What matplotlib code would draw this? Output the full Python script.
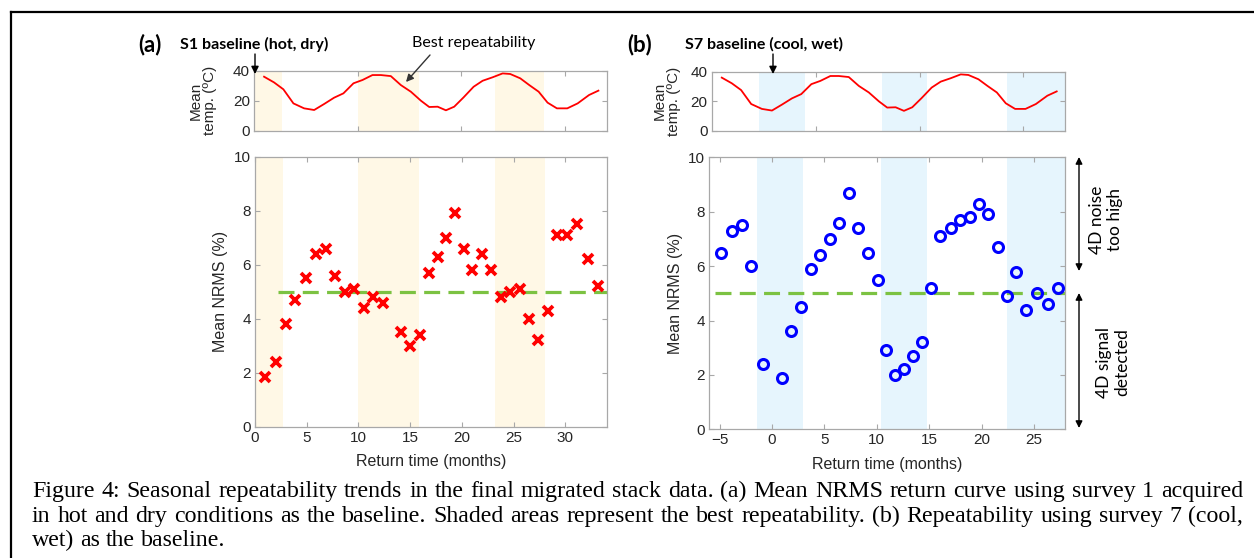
import matplotlib
matplotlib.use("Agg")
import matplotlib.pyplot as plt
from matplotlib.lines import Line2D
from matplotlib.patches import FancyArrowPatch

W, H, DPI = 1254, 558, 100

# ---------------- data ----------------
nrms_a_x = [1.0, 2.06, 2.96, 3.9, 4.92, 5.86, 6.82, 7.72, 8.66, 9.56, 10.49, 11.43, 12.33,
            14.1, 15.0, 15.93, 16.83, 17.67, 18.5, 19.38, 20.2, 21.0, 21.9, 22.85, 23.8,
            24.7, 25.65, 26.5, 27.36, 28.3, 29.16, 30.16, 31.16, 32.15, 33.15]
nrms_a_y = [1.85, 2.4, 3.8, 4.7, 5.5, 6.4, 6.6, 5.6, 5.0, 5.1, 4.4, 4.8, 4.6,
            3.5, 3.0, 3.4, 5.7, 6.3, 7.0, 7.9, 6.6, 5.8, 6.4, 5.8, 4.8,
            5.0, 5.1, 4.0, 3.2, 4.3, 7.1, 7.1, 7.5, 6.2, 5.2]

nrms_b_x = [-4.87, -3.85, -2.9, -1.97, -0.86, 0.92, 1.78, 2.77, 3.69, 4.62, 5.51, 6.43, 7.32,
            8.22, 9.14, 10.1, 10.92, 11.78, 12.64, 13.44, 14.36, 15.19, 16.02, 17.04, 17.96,
            18.89, 19.78, 20.64, 21.53, 22.39, 23.28, 24.27, 25.25, 26.3, 27.26]
nrms_b_y = [6.5, 7.3, 7.5, 6.0, 2.4, 1.9, 3.6, 4.5, 5.9, 6.4, 7.0, 7.6, 8.7,
            7.4, 6.5, 5.5, 2.9, 2.0, 2.2, 2.7, 3.2, 5.2, 7.1, 7.4, 7.7,
            7.8, 8.3, 7.9, 6.7, 4.9, 5.8, 4.4, 5.0, 4.6, 5.2]

# monthly mean temperature, months since survey 1
temp_month = [0.97, 1.93, 2.83, 3.8, 4.83, 5.8, 6.76, 7.72, 8.62, 9.59, 10.46, 11.42, 12.23,
              13.19, 14.16, 15.12, 16.09, 16.89, 17.7, 18.5, 19.3, 20.2, 21.17, 22.04, 23.0,
              23.97, 24.7, 25.67, 26.54, 27.44, 28.3, 29.2, 30.2, 31.2, 32.3, 33.2]
temp_c = [36, 32.2, 27.6, 18.2, 14.9, 13.8, 17.8, 22, 24.9, 31.6, 33.8, 37.1, 37.1,
          36.4, 30.4, 26, 20, 15.8, 16, 13.6, 16, 22.2, 29.3, 33.3, 35.6,
          38.2, 37.8, 34.9, 30.4, 26, 18.7, 14.9, 14.9, 18.2, 23.8, 26.7]

bands_a = [(0, 2.7), (10, 15.9), (23.2, 28.0)]
bands_b = [(-1.45, 2.95), (10.4, 14.75), (22.4, 28.0)]
threshold = 5.0
thr_start_a, thr_start_b = 2.2, -5.5
b_offset = 6  # survey 7 acquired 6 months after survey 1

xticks_a = [0, 5, 10, 15, 20, 25, 30]
xticks_b = [-5, 0, 5, 10, 15, 20, 25]
yticks_nrms = [0, 2, 4, 6, 8, 10]
yticks_temp = [0, 20, 40]
temp_xticks_abs = [10, 20, 30]

caption_lines = [
    "Figure 4: Seasonal repeatability trends in the final migrated stack data. (a) Mean NRMS return curve using survey 1 acquired",
    "in hot and dry conditions as the baseline. Shaded areas represent the best repeatability. (b) Repeatability using survey 7 (cool,",
    "wet) as the baseline.",
]

# ---------------- style ----------------
SANS = ['Liberation Sans', 'DejaVu Sans']
CAL = ['Lato', 'DejaVu Sans']
SERIF = ['Liberation Serif', 'DejaVu Serif']
SPINE = '#a8a8a8'
TXT = '#262626'
YEL = '#fff8e6'
BLU = '#e6f5fd'
GRN = '#7cc242'

fig = plt.figure(figsize=(W / DPI, H / DPI), dpi=DPI)


def rect(l, t, r, b):
    return [l / W, 1 - b / H, (r - l) / W, (b - t) / H]


def fx(x):
    return x / W


def fy(y):
    return 1 - y / H


def style(ax, size=10.5):
    for s in ax.spines.values():
        s.set_color(SPINE)
        s.set_linewidth(0.9)
    ax.tick_params(direction='in', top=True, right=True, length=3.5, width=0.8,
                   color=SPINE, labelcolor=TXT, labelsize=size, pad=3)
    for lab in ax.get_xticklabels() + ax.get_yticklabels():
        lab.set_family(SANS)


def nrms_axes(r, xlim, xticks, bands, shade, xs, ys, thr_start, marker, ylab_x):
    ax = fig.add_axes(r)
    for lo, hi in bands:
        ax.axvspan(lo, hi, color=shade, lw=0, zorder=0)
    ax.plot([thr_start, xlim[1]], [threshold, threshold], color=GRN, lw=2.3,
            dashes=(5, 2.6), zorder=2)
    if marker == 'x':
        ax.plot(xs, ys, 'x', color='#ff0000', ms=6.5, mew=2.7, zorder=3, clip_on=False)
    else:
        ax.plot(xs, ys, 'o', mfc='none', mec='#0000ff', ms=7.2, mew=2.2, zorder=3, clip_on=False)
    ax.set_xlim(*xlim)
    ax.set_ylim(0, 10)
    ax.set_xticks(xticks)
    ax.set_yticks(yticks_nrms)
    style(ax, size=11)
    ax.set_xlabel('Return time (months)', fontsize=11.5, family=SANS, color=TXT, va='center')
    ax.set_ylabel('Mean NRMS (%)', fontsize=11.5, family=SANS, color=TXT, va='center')
    ax.xaxis.set_label_coords(0.5, -0.128)
    ax.yaxis.set_label_coords(ylab_x, 0.5)
    return ax


def temp_axes(r, xlim, xticks, bands, shade, shift, ylab_x):
    ax = fig.add_axes(r)
    for lo, hi in bands:
        ax.axvspan(lo, hi, color=shade, lw=0, zorder=0)
    ax.plot([m - shift for m in temp_month], temp_c, color='#ff0000', lw=1.3)
    ax.set_xlim(*xlim)
    ax.set_ylim(0, 40)
    ax.set_xticks(xticks)
    ax.set_xticklabels([])
    ax.set_yticks(yticks_temp)
    style(ax, size=11)
    ax.set_ylabel('Mean\ntemp. (ºC)', fontsize=11, family=SANS, color=TXT,
                  va='center', linespacing=1.05)
    ax.yaxis.set_label_coords(ylab_x, 0.5)
    return ax


# panel (a)
axa = nrms_axes(rect(255, 156.7, 606.7, 426.7), (0, 34), xticks_a, bands_a, YEL,
                nrms_a_x, nrms_a_y, thr_start_a, 'x', -0.097)
tax = temp_axes(rect(254, 70.7, 606.7, 130.7), (0, 34), temp_xticks_abs, bands_a, YEL, 0, -0.145)

# panel (b)
axb = nrms_axes(rect(709.3, 157.3, 1065.3, 429.3), (-6, 28), xticks_b, bands_b, BLU,
                nrms_b_x, nrms_b_y, thr_start_b, 'o', -0.095)
tbx = temp_axes(rect(711.7, 71.7, 1065, 131), (-6, 28), [t - b_offset for t in temp_xticks_abs],
                bands_b, BLU, b_offset, -0.127)

# ---------------- headings & annotations ----------------
fig.text(fx(138), fy(45), '(a)', fontsize=16, weight='bold', family=CAL, va='center', ha='left')
fig.text(fx(180), fy(44), 'S1 baseline (hot, dry)', fontsize=11.5, weight='bold', family=CAL,
         va='center', ha='left')
fig.text(fx(412), fy(43), 'Best repeatability', fontsize=11.5, family=CAL, va='center', ha='left')
fig.text(fx(627), fy(45), '(b)', fontsize=16, weight='bold', family=CAL, va='center', ha='left')
fig.text(fx(685), fy(44), 'S7 baseline (cool, wet)', fontsize=11.5, weight='bold', family=CAL,
         va='center', ha='left')


def arrow(p0, p1, style_='-|>', color='k', ms=11, lw=1.0):
    a = FancyArrowPatch((fx(p0[0]), fy(p0[1])), (fx(p1[0]), fy(p1[1])),
                        transform=fig.transFigure, arrowstyle=style_, color=color,
                        mutation_scale=ms, lw=lw, shrinkA=0, shrinkB=0)
    fig.add_artist(a)


arrow((255, 54), (255, 74))
arrow((430, 55), (406, 82), color='#333333')
arrow((773, 54), (773, 74))
arrow((1079, 157), (1079, 271), style_='<|-|>', ms=10)
arrow((1079, 293), (1079, 428), style_='<|-|>', ms=10)

fig.text(fx(1106), fy(220), '4D noise\ntoo high', rotation=90, fontsize=12.5, family=CAL,
         ha='center', va='center', linespacing=1.15)
fig.text(fx(1113), fy(362), '4D signal\ndetected', rotation=90, fontsize=12.5, family=CAL,
         ha='center', va='center', linespacing=1.15)

# ---------------- frame ----------------
fig.add_artist(Line2D([fx(11), fx(11)], [0, fy(12)], transform=fig.transFigure, color='k', lw=1.6))
fig.add_artist(Line2D([fx(11), 1], [fy(12), fy(12)], transform=fig.transFigure, color='k', lw=1.6))

# ---------------- caption (justified) ----------------
renderer = fig.canvas.get_renderer()
cap_left, cap_right = 32, 1243
baselines = [497, 522, 546]
probe = fig.text(0, 0, caption_lines[0], fontsize=14, family=SERIF)
cap_fs = 14 * (cap_right - cap_left - 8) / probe.get_window_extent(renderer).width
probe.remove()
p1 = fig.text(0, 0, 'a a', fontsize=cap_fs, family=SERIF)
p2 = fig.text(0, 0, 'aa', fontsize=cap_fs, family=SERIF)
space_w = p1.get_window_extent(renderer).width - p2.get_window_extent(renderer).width
p1.remove()
p2.remove()
for i, line in enumerate(caption_lines):
    words = line.split(' ')
    texts = [fig.text(0, fy(baselines[i]), w, fontsize=cap_fs, family=SERIF, va='baseline',
                      ha='left', color='k') for w in words]
    widths = [t.get_window_extent(renderer).width for t in texts]
    if i < len(caption_lines) - 1:
        gap = (cap_right - cap_left - sum(widths)) / (len(words) - 1)
    else:
        gap = space_w
    x = cap_left
    for t, w in zip(texts, widths):
        t.set_x(fx(x))
        x += w + gap

fig.savefig('out.png', dpi=DPI)
